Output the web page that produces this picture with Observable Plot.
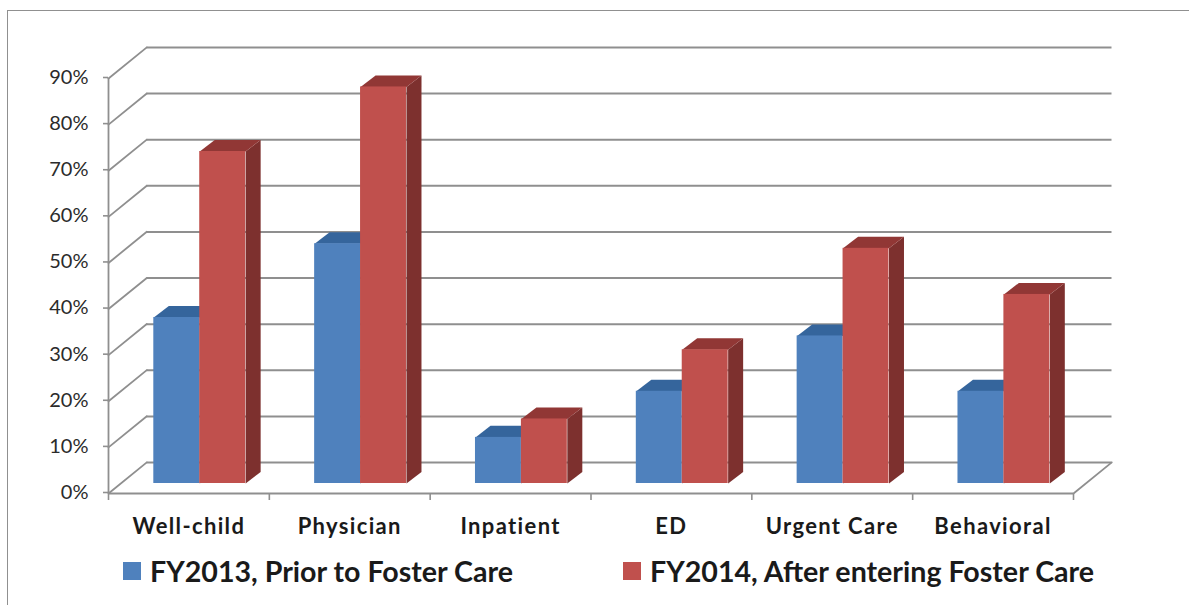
<!DOCTYPE html>
<html><head><meta charset="utf-8">
<script src="https://cdn.jsdelivr.net/npm/d3@7"></script>
<script src="https://cdn.jsdelivr.net/npm/@observablehq/plot@0.6"></script>
<style>
html,body{margin:0;padding:0;background:#fff;width:1189px;height:605px;overflow:hidden}
#wrap{position:relative;width:1189px;height:605px;font-family:Lato,sans-serif}
#frame{position:absolute;left:7px;top:10px;width:1190px;height:600px;border:1.5px solid #909090;box-sizing:border-box}
#chart{position:absolute;left:0;top:0}
#chart svg{background:transparent;display:block}
.catlabel text{letter-spacing:1.35px}
#legend{position:absolute;left:0;top:545px;width:1189px;height:60px}
.li{position:absolute;top:8.5px;display:flex;align-items:center;height:34px;font-weight:700;font-size:28.6px;color:#1a1a1a;white-space:nowrap}
.sw{display:inline-block;width:18px;height:18px;margin-right:9px}
</style></head><body>
<div id="wrap"><div id="frame"></div><div id="chart"></div><div id="legend"></div></div>
<script>
const categories = ["Well-child","Physician","Inpatient","ED","Urgent Care","Behavioral"];
const fy2013 = [36,52,10,20,32,20];
const fy2014 = [72,86,14,29,51,41];
const seriesNames = ["FY2013, Prior to Foster Care","FY2014, After entering Foster Care"];
const yTicks = [0,10,20,30,40,50,60,70,80,90];
const xEdges = [0,1,2,3,4,5,6];
const colors = {
  blue:{front:"#4f81bd",top:"#35659c",side:"#2f4f78"},
  red:{front:"#c0504d",top:"#913735",side:"#7d302e"}
};
// Depth of the 3D box and of each bar, expressed in scale units
const wallX = 0.238, wallY = 6.75;
const barX = 0.0933, barY = 2.5;
const barStart = 0.2817, barW = 0.2855;
const floorDy = -10;
const wallDx = 38.5, wallDy = -31;

const bars = [];
categories.forEach((c,i)=>{
  bars.push({c,v:fy2013[i],x0:i+barStart,x1:i+barStart+barW,s:"blue"});
  bars.push({c,v:fy2014[i],x0:i+barStart+barW,x1:i+barStart+2*barW,s:"red"});
});
const faces = [];
bars.forEach((b,k)=>{
  const side = [[b.x1,0],[b.x1+barX,barY],[b.x1+barX,b.v+barY],[b.x1,b.v]];
  const top = [[b.x0,b.v],[b.x1,b.v],[b.x1+barX,b.v+barY],[b.x0+barX,b.v+barY]];
  side.forEach(p=>faces.push({id:k+"s",x:p[0],y:p[1],fill:colors[b.s].side,order:k}));
  top.forEach(p=>faces.push({id:k+"t",x:p[0],y:p[1],fill:colors[b.s].top,order:k}));
});
const sideWall = yTicks.flatMap(t=>[{t,x:0,y:t},{t,x:wallX,y:t+wallY}]);
const rightFloor = [{x:6,y:0},{x:6+wallX,y:wallY}];
const grid = "#8f8f8f";

const barMarks = bars.flatMap((b,k)=>[
  Plot.line(faces.filter(f=>f.order===k),{x:"x",y:"y",z:"id",fill:"fill",stroke:null,curve:"linear-closed",dy:floorDy}),
  Plot.rect([b],{x1:"x0",x2:"x1",y1:0,y2:"v",fill:colors[b.s].front,dy:floorDy})
]);

const plot = Plot.plot({
  width:1189,height:545,
  marginLeft:108,marginRight:116,marginTop:78,marginBottom:52,
  style:{background:"transparent",fontFamily:"Lato,sans-serif"},
  x:{type:"linear",domain:[0,6],axis:null},
  y:{type:"linear",domain:[0,90],axis:null},
  marks:[
    Plot.ruleY(yTicks,{x1:0,x2:6,dx:wallDx,dy:wallDy,stroke:grid,strokeWidth:2}),
    Plot.line(sideWall,{x:"x",y:"y",z:"t",stroke:grid,strokeWidth:1.8}),
    Plot.line(rightFloor,{x:"x",y:"y",stroke:grid,strokeWidth:1.8}),
    Plot.ruleX([0],{y1:0,y2:90,stroke:grid,strokeWidth:1.8}),
    Plot.ruleY([0],{x1:0,x2:6,stroke:grid,strokeWidth:2}),
    Plot.axisX({ticks:xEdges,tickSize:7,tickFormat:()=>"",stroke:grid,strokeWidth:1.6,label:null}),
    Plot.axisY({ticks:yTicks,tickSize:5,tickPadding:15,tickFormat:d=>d+"%",stroke:grid,strokeWidth:1.6,fontSize:20,fill:"#2b2b2b",label:null,marginLeft:108,dy:-1}),
    ...barMarks,
    Plot.text(categories,{x:(d,i)=>i+0.5,y:0,text:d=>d,dy:33,fontSize:22,fontWeight:700,fill:"#1a1a1a",className:"catlabel"})
  ]
});
document.getElementById("chart").appendChild(plot);

const legend = document.getElementById("legend");
[["blue",123],["red",623]].forEach(([k,left],i)=>{
  const d=document.createElement("div");d.className="li";d.style.left=left+"px";
  const s=document.createElement("span");s.className="sw";s.style.background=colors[k].front;
  d.appendChild(s);d.appendChild(document.createTextNode(seriesNames[i]));
  legend.appendChild(d);
});
</script></body></html>
